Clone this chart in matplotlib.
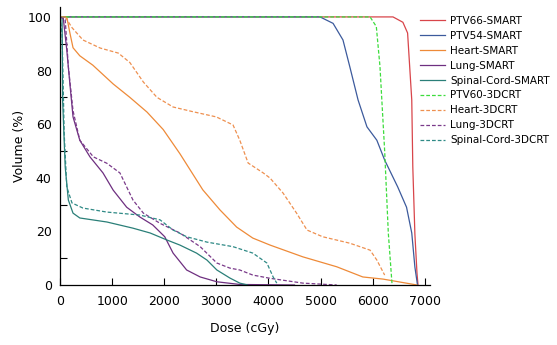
import matplotlib
matplotlib.use("Agg")
import matplotlib.pyplot as plt
import numpy as np

# ---- data (dose in cGy, volume in %) ----
ptv66_smart_dose = [0, 6390, 6580, 6670, 6750, 6770, 6810, 6850, 6870]
ptv66_smart_vol = [100, 100, 98, 94, 69, 44, 19, 4.5, 0]

ptv54_smart_dose = [0, 4990, 5240, 5430, 5560, 5720, 5890, 6080, 6230, 6480, 6650, 6750, 6810, 6860]
ptv54_smart_vol = [100, 100, 97.6, 91.4, 81.5, 69, 59, 54, 46.6, 36.6, 29, 19.4, 6.7, 0]

heart_smart_dose = [0, 130, 190, 250, 380, 630, 1020, 1340, 1670, 1980, 2300, 2740, 3070, 3390, 3700, 4030, 4660, 5310, 5560, 5810, 6200, 6850]
heart_smart_vol = [100, 100, 94, 88.5, 85.5, 82, 75, 70, 64.5, 58, 49, 35.5, 28, 21.6, 17.5, 14.9, 10.5, 6.8, 4.9, 3, 2.2, 0]

lung_smart_dose = [0, 60, 130, 190, 250, 380, 575, 825, 1020, 1280, 1530, 1780, 2010, 2170, 2430, 2690, 3010, 3450, 4500]
lung_smart_vol = [100, 100, 87.7, 75, 62.7, 54, 47.8, 41.8, 35.4, 29, 25.4, 22.4, 18, 11.9, 5.6, 3, 1.2, 0.2, 0]

cord_smart_dose = [0, 40, 50, 100, 160, 250, 380, 900, 1400, 1730, 2050, 2300, 2620, 2820, 3010, 3260, 3450, 3600]
cord_smart_vol = [100, 100, 69, 44, 31.7, 26.8, 25, 23.5, 21.2, 19.4, 16.8, 14.9, 11.9, 9.3, 5.6, 2.6, 0.7, 0]

ptv60_3dcrt_dose = [0, 5950, 6070, 6140, 6230, 6300, 6370]
ptv60_3dcrt_vol = [100, 100, 96.4, 81.5, 50, 19.4, 0.7]

heart_3dcrt_dose = [0, 100, 230, 440, 770, 1120, 1340, 1600, 1860, 2170, 2560, 3000, 3320, 3450, 3610, 3900, 4030, 4280, 4540, 4740, 5040, 5560, 5950, 6080, 6230]
heart_3dcrt_vol = [100, 100, 96, 91.4, 88.4, 86.5, 83, 75.7, 70, 66.4, 64.6, 62.7, 59.7, 54, 45.5, 41.8, 39.9, 34.3, 26.8, 20.5, 18, 15.6, 13, 9.3, 3.7]

lung_3dcrt_dose = [0, 100, 160, 250, 380, 640, 900, 1150, 1400, 1600, 1920, 2300, 2690, 3010, 3260, 3450, 3700, 4030, 4660, 5310]
lung_3dcrt_vol = [100, 99, 81.5, 65, 54, 47.8, 45.4, 41.8, 31.7, 26.8, 23, 19.4, 14.3, 8.2, 6.3, 5.6, 3.7, 2.5, 0.7, 0]

cord_3dcrt_dose = [0, 40, 80, 130, 230, 440, 900, 1530, 1920, 2170, 2430, 2820, 3320, 3700, 3970, 4090, 4160]
cord_3dcrt_vol = [100, 94, 56.7, 36.6, 30.6, 28.7, 27.2, 26.1, 24.3, 20.5, 18, 16, 14.3, 11.9, 8.2, 3, 0.7]

x_ticks = [0, 1000, 2000, 3000, 4000, 5000, 6000, 7000]
y_ticks = [0, 20, 40, 60, 80, 100]

series = [
    ("PTV66-SMART", ptv66_smart_dose, ptv66_smart_vol, "#d8454a", "-"),
    ("PTV54-SMART", ptv54_smart_dose, ptv54_smart_vol, "#3c5a9c", "-"),
    ("Heart-SMART", heart_smart_dose, heart_smart_vol, "#ee8a38", "-"),
    ("Lung-SMART", lung_smart_dose, lung_smart_vol, "#6e2f80", "-"),
    ("Spinal-Cord-SMART", cord_smart_dose, cord_smart_vol, "#2a7f78", "-"),
    ("PTV60-3DCRT", ptv60_3dcrt_dose, ptv60_3dcrt_vol, "#3ddc3d", "--"),
    ("Heart-3DCRT", heart_3dcrt_dose, heart_3dcrt_vol, "#ee9050", "--"),
    ("Lung-3DCRT", lung_3dcrt_dose, lung_3dcrt_vol, "#7a3a8a", "--"),
    ("Spinal-Cord-3DCRT", cord_3dcrt_dose, cord_3dcrt_vol, "#2f8a86", "--"),
]

plt.rcParams['font.family'] = ['DejaVu Sans']
fig = plt.figure(figsize=(5.57, 3.45), dpi=100)
ax = fig.add_axes([60/557, 60/345, 370/557, 278/345])

for name, d, v, c, ls in series:
    if ls == "--":
        ax.plot(d, v, color=c, lw=0.9, dashes=(3, 1.6), label=name)
    else:
        ax.plot(d, v, color=c, lw=0.9, label=name)

ax.set_xlim(0, 7100)
ax.set_ylim(0, 103.7)
ax.set_xticks(x_ticks)
ax.set_yticks(y_ticks)
ax.set_yticks([10, 30, 50, 70, 90], minor=True)
ax.tick_params(axis='y', which='major', length=0, labelsize=9, pad=6)
ax.tick_params(axis='y', which='minor', length=5, direction='in', width=0.8)
ax.tick_params(axis='x', which='major', length=5, direction='in', width=0.8, labelsize=9, pad=7)
for s in ['top', 'right']:
    ax.spines[s].set_visible(False)
for s in ['left', 'bottom']:
    ax.spines[s].set_linewidth(0.9)

ax.set_xlabel("Dose (cGy)", fontsize=9, labelpad=10)
ax.set_ylabel("Volume (%)", fontsize=9, labelpad=1)

leg = fig.legend(loc='upper left', bbox_to_anchor=(420/557, 1 - 16/345), frameon=False,
                 fontsize=7.5, handlelength=2.4, handletextpad=0.5, labelspacing=0.47,
                 borderaxespad=0, borderpad=0)

fig.savefig("out.png", dpi=100)
